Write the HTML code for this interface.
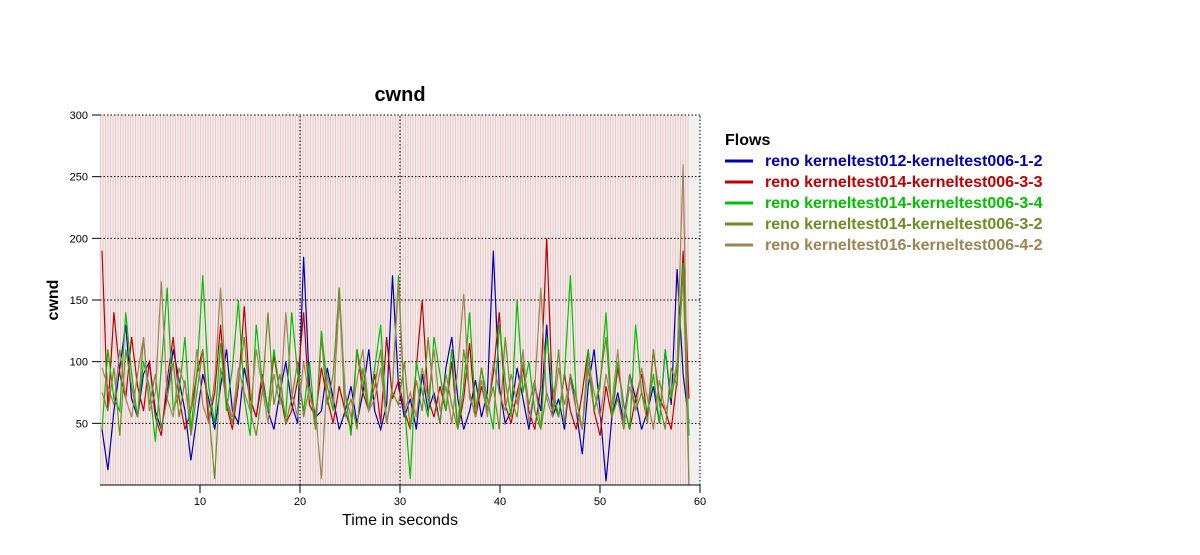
<!DOCTYPE html>
<html><head><meta charset="utf-8">
<style>
body{margin:0;background:#fff;width:1200px;height:550px;overflow:hidden;font-family:"Liberation Sans",sans-serif}
</style></head>
<body>
<svg id="chart" width="1200" height="550" xmlns="http://www.w3.org/2000/svg" font-family="Liberation Sans, sans-serif">
<defs>
<pattern id="stripes" width="2.5" height="10" patternUnits="userSpaceOnUse">
<rect width="2.5" height="10" fill="#f4efef"/>
<rect width="1" height="10" fill="#ebc6c6"/>
</pattern>
</defs>
<text x="400" y="101" font-size="20" font-weight="bold" text-anchor="middle">cwnd</text>
<rect x="100" y="115" width="600" height="370" fill="#f0f0f0"/>
<rect x="100" y="115" width="590" height="370" fill="url(#stripes)"/>
<g id="grid"></g>
<g id="series"></g>
<g id="axes"></g>
<text x="400" y="525" font-size="16" text-anchor="middle">Time in seconds</text>
<text x="58" y="300" font-size="16" font-weight="bold" text-anchor="middle" transform="rotate(-90 58 300)">cwnd</text>
<g font-size="16" font-weight="bold">
<text x="725" y="145" font-size="16" font-weight="bold">Flows</text>
<g id="legendItems"></g>
</g>
</svg>
<script>
const names=["reno kerneltest012-kerneltest006-1-2","reno kerneltest014-kerneltest006-3-3","reno kerneltest014-kerneltest006-3-4","reno kerneltest014-kerneltest006-3-2","reno kerneltest016-kerneltest006-4-2"];
const colors=["#0000b4","#c00000","#00c000","#6b8e23","#9c8455"];
const xTicks=[10,20,30,40,50,60];
const xGrid=[20,30];
const yTicks=[50,100,150,200,250,300];
const blue=[45,12,60,95,130,70,55,90,100,60,45,75,110,85,60,20,55,90,70,45,80,110,60,50,95,70,55,85,60,45,75,100,65,50,185,80,55,60,95,70,45,60,80,50,75,110,60,45,65,170,80,55,70,45,90,60,75,50,95,120,70,45,60,85,55,75,190,80,50,60,95,70,45,80,60,130,55,70,45,90,60,25,80,110,60,3,55,75,50,90,70,45,60,80,50,110,65,175,90,50];
const red=[190,60,140,90,70,120,80,60,100,55,40,85,120,70,45,60,90,110,50,75,130,65,45,80,145,70,55,90,60,105,75,50,60,85,140,65,55,95,70,50,80,60,45,110,75,60,90,50,120,70,85,60,45,95,150,70,55,80,60,100,45,70,115,55,80,60,90,140,65,50,75,95,60,45,80,200,70,55,90,60,45,75,110,60,40,80,55,95,65,45,70,90,55,110,70,60,45,85,190,70];
const green=[45,110,70,60,140,90,55,100,80,35,95,160,60,75,120,45,90,170,80,50,115,60,95,150,70,40,130,85,60,110,75,55,140,90,60,100,45,125,80,60,160,75,40,110,85,60,95,130,50,80,170,65,5,100,75,55,120,90,60,110,45,80,140,60,95,70,45,130,85,55,150,75,100,60,45,120,80,55,90,170,70,45,110,60,80,140,55,100,65,45,130,75,60,90,50,110,70,95,180,40];
const olive=[75,60,95,40,110,80,55,120,65,90,45,70,100,55,85,40,75,110,60,5,95,70,50,85,120,60,40,75,140,65,90,50,70,100,55,80,45,120,65,90,160,55,70,45,95,60,80,110,50,75,65,100,45,85,60,120,70,50,90,65,45,110,75,55,95,60,80,45,120,70,55,100,65,85,45,75,60,110,50,90,70,45,95,60,85,120,55,70,45,90,60,75,50,110,65,45,95,80,175,0];
const tan=[95,80,65,110,70,55,90,120,60,75,165,70,55,95,80,60,110,65,50,85,160,70,55,95,75,60,110,80,50,90,65,140,75,55,100,70,60,5,90,65,150,75,55,85,110,60,70,95,50,80,165,60,75,55,95,70,110,60,80,50,95,155,70,60,85,55,100,75,60,90,65,110,50,80,160,70,55,95,65,85,60,45,100,75,55,90,65,110,50,80,60,95,70,45,85,60,75,100,260,0];
const seriesData=[blue,red,green,olive,tan];
const X0=100,X1=700,Y0=485,Y1=115;
const xs=t=>X0+(t/60)*(X1-X0);
const ys=v=>Y0-(v/300)*(Y0-Y1);
const NS="http://www.w3.org/2000/svg";
const grid=document.getElementById('grid'),axes=document.getElementById('axes'),ser=document.getElementById('series'),leg=document.getElementById('legendItems');
yTicks.forEach(v=>{
 const l=document.createElementNS(NS,'line');
 
 
 l.setAttribute('x1',X0);l.setAttribute('x2',X1);l.setAttribute('y1',ys(v));l.setAttribute('y2',ys(v));
 l.setAttribute('stroke','#000');l.setAttribute('stroke-dasharray','1.5,2');grid.appendChild(l);
 const tk=document.createElementNS(NS,'line');
 
 
 tk.setAttribute('x1',X0-8);tk.setAttribute('x2',X0);tk.setAttribute('y1',ys(v));tk.setAttribute('y2',ys(v));tk.setAttribute('stroke','#000');axes.appendChild(tk);
 const t=document.createElementNS(NS,'text');
 
 
 t.setAttribute('x',X0-12);t.setAttribute('y',ys(v)+4);t.setAttribute('font-size','11');t.setAttribute('text-anchor','end');t.textContent=v;axes.appendChild(t);
});
xGrid.forEach(v=>{
 const l=document.createElementNS(NS,'line');
 
 
 l.setAttribute('x1',xs(v));l.setAttribute('x2',xs(v));l.setAttribute('y1',Y0);l.setAttribute('y2',Y1);
 l.setAttribute('stroke','#000');l.setAttribute('stroke-dasharray','1.5,2');grid.appendChild(l);
});
xTicks.forEach(v=>{
 const tk=document.createElementNS(NS,'line');
 
 
 tk.setAttribute('x1',xs(v));tk.setAttribute('x2',xs(v));tk.setAttribute('y1',Y0);tk.setAttribute('y2',Y0+8);tk.setAttribute('stroke','#000');axes.appendChild(tk);
 const t=document.createElementNS(NS,'text');
 
 
 t.setAttribute('x',xs(v));t.setAttribute('y',Y0+20);t.setAttribute('font-size','11');t.setAttribute('text-anchor','middle');t.textContent=v;axes.appendChild(t);
});
const rl=document.createElementNS(NS,'line');


rl.setAttribute('x1',X1);rl.setAttribute('x2',X1);rl.setAttribute('y1',Y0);rl.setAttribute('y2',Y1);rl.setAttribute('stroke','#000');rl.setAttribute('stroke-dasharray','1.5,2');axes.appendChild(rl);
const bl=document.createElementNS(NS,'line');


bl.setAttribute('x1',X0);bl.setAttribute('x2',X1);bl.setAttribute('y1',Y0);bl.setAttribute('y2',Y0);bl.setAttribute('stroke','#000');axes.appendChild(bl);
seriesData.forEach((arr,si)=>{
 const n=arr.length;
 const pts=arr.map((v,i)=>xs(0.2+i*(58.9-0.2)/(n-1)).toFixed(1)+','+ys(v).toFixed(1)).join(' ');
 const p=document.createElementNS(NS,'polyline');
 
 
 p.setAttribute('points',pts);p.setAttribute('fill','none');p.setAttribute('stroke',colors[si]);p.setAttribute('stroke-width','1.2');
 ser.appendChild(p);
 const y=165+si*21;
 const l=document.createElementNS(NS,'line');
 
 
 l.setAttribute('x1',725);l.setAttribute('x2',753);l.setAttribute('y1',y-4);l.setAttribute('y2',y-4);l.setAttribute('stroke',colors[si]);l.setAttribute('stroke-width','3');leg.appendChild(l);
 const t=document.createElementNS(NS,'text');
 
 
 t.setAttribute('x',765);t.setAttribute('y',y+1);t.setAttribute('fill',colors[si]);t.textContent=names[si];leg.appendChild(t);
});
</script>
</body></html>
